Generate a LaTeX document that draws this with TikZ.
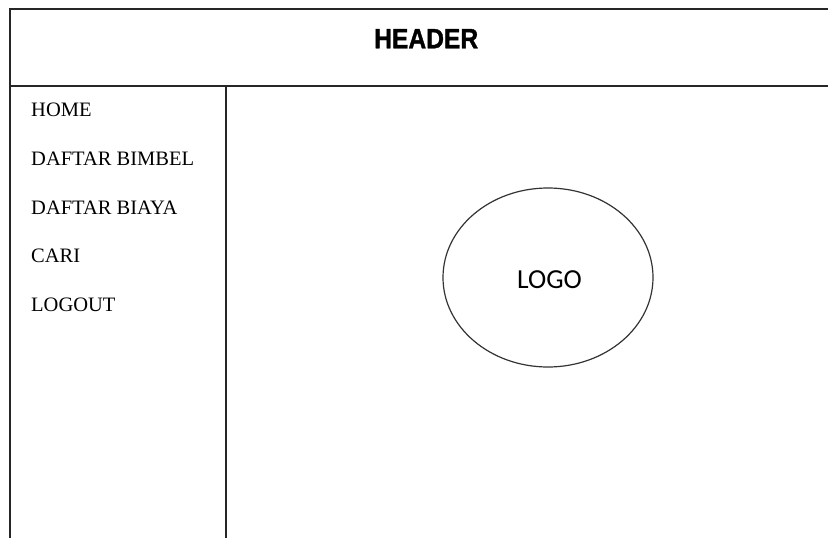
\documentclass[tikz,border=0pt]{standalone}
\usepackage{fontspec}
\setmainfont{Liberation Serif}
\newfontfamily\headfont[BoldFeatures={FakeBold=1.3}]{Liberation Sans}
\newfontfamily\logofont{Carlito}
\usetikzlibrary{shapes.geometric}
\begin{document}
\begin{tikzpicture}[x=1pt,y=-1pt,
  frame/.style={line width=2pt,draw=black!85},
  menuitem/.style={anchor=base west,inner sep=0pt,font=\fontsize{20.5}{22}\selectfont},
  logobox/.style={ellipse,draw=black!80,line width=1.2pt,minimum width=210pt,minimum height=179pt,inner sep=0pt}]
  \useasboundingbox[fill=white] (0,0) rectangle (828,538);

  % page frame: header band, left border and sidebar divider
  \coordinate (tl) at (10,8.5);
  \coordinate (tr) at (828,8.5);
  \coordinate (hl) at (10,86);
  \coordinate (hr) at (828,86);
  \coordinate (bl) at (10,538);
  \coordinate (dt) at (225.5,86);
  \coordinate (db) at (225.5,538);
  \draw[frame] (tr) -- (tl) -- (bl);
  \draw[frame] (hl) -- (hr);
  \draw[frame] (dt) -- (db);

  % header title
  \node[anchor=base,inner sep=0pt] (header) at (426.2,48.3)
    {\scalebox{0.88}[1]{\headfont\bfseries\fontsize{28}{30}\selectfont HEADER}};

  % sidebar menu
  \node[menuitem] (home)   at (31,116)   {HOME};
  \node[menuitem] (bimbel) at (31,165.7) {DAFTAR BIMBEL};
  \node[menuitem] (biaya)  at (31,214)   {DAFTAR BIAYA};
  \node[menuitem] (cari)   at (31,262.7) {CARI};
  \node[menuitem] (logout) at (31,311.7) {LOGOUT};

  % logo placeholder
  \node[logobox] (logo) at (548,277.5) {};
  \node[anchor=base,inner sep=0pt,font=\logofont\fontsize{27.5}{30}\selectfont] (logotext) at (549.5,288.3) {LOGO};
\end{tikzpicture}
\end{document}
